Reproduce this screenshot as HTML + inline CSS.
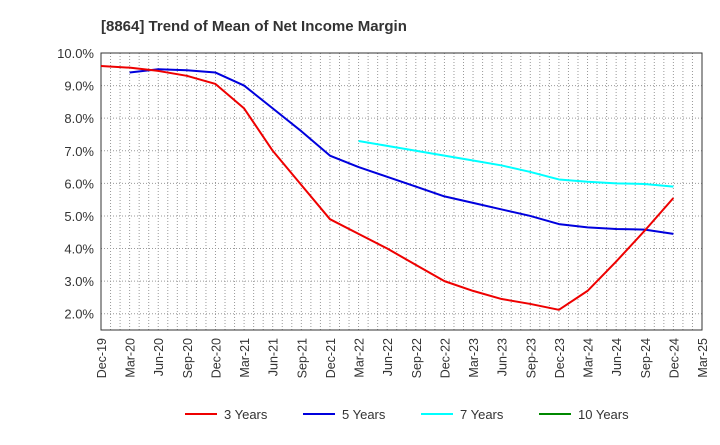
<!DOCTYPE html>
<html><head><meta charset="utf-8"><style>
body{margin:0;background:#fff;font-family:"Liberation Sans",sans-serif}
</style></head><body>
<svg width="720" height="440" xmlns="http://www.w3.org/2000/svg" font-family="Liberation Sans, sans-serif">
<text x="101" y="31" font-size="15" font-weight="bold" fill="#333">[8864]  Trend of Mean of Net Income Margin</text>
<g id="grid"></g><g id="axes"></g><g id="series"></g><g id="legend"></g>
</svg>
<script>
const xLabels=["Dec-19","Mar-20","Jun-20","Sep-20","Dec-20","Mar-21","Jun-21","Sep-21","Dec-21","Mar-22","Jun-22","Sep-22","Dec-22","Mar-23","Jun-23","Sep-23","Dec-23","Mar-24","Jun-24","Sep-24","Dec-24","Mar-25"];
const yTicks=[2,3,4,5,6,7,8,9,10];
const s3=[9.6,9.55,9.45,9.3,9.05,8.3,7.0,5.95,4.9,4.45,4.0,3.5,3.0,2.7,2.45,2.3,2.12,2.7,3.6,4.55,5.55];
const s5=[null,9.4,9.5,9.47,9.4,9.0,8.3,7.6,6.85,6.5,6.2,5.9,5.6,5.4,5.2,5.0,4.75,4.65,4.6,4.58,4.45];
const s7=[null,null,null,null,null,null,null,null,null,7.3,7.15,7.0,6.85,6.7,6.55,6.35,6.12,6.05,6.0,5.98,5.9];
const s10=[];
const NS="http://www.w3.org/2000/svg";
const L=101,R=702,T=53,B=330,ymin=1.5,ymax=10;
const xs=i=>L+(R-L)*i/21;
const ys=v=>B-(B-T)*(v-ymin)/(ymax-ymin);
function mk(t,a,p){const e=document.createElementNS(NS,t);for(const k in a)e.setAttribute(k,a[k]);p.appendChild(e);return e;}
const g=document.getElementById('grid'),ax=document.getElementById('axes'),se=document.getElementById('series'),lg=document.getElementById('legend');
for(let m=1;m<63;m++){const x=L+(R-L)*m/63;
const l=mk('line',{x1:x,x2:x,y1:T,y2:B,stroke:'#999','stroke-dasharray':'1,2','stroke-width':1},g);

}
yTicks.forEach(v=>{const y=ys(v);
const l=mk('line',{x1:L,x2:R,y1:y,y2:y,stroke:'#999','stroke-dasharray':'1,2'},g);


const t=mk('text',{x:L-7,y:y+5,'text-anchor':'end','font-size':13,fill:'#333'},ax);t.textContent=v.toFixed(1)+'%';

});
const fr=mk('rect',{x:L,y:T,width:R-L,height:B-T,fill:'none',stroke:'#333'},ax);


xLabels.forEach((s,i)=>{const x=xs(i);const t=mk('text',{transform:`translate(${x+5},${B+8}) rotate(-90)`,'text-anchor':'end','font-size':12.5,fill:'#333'},ax);t.textContent=s;

});
function line(arr,c,name){let d='';arr.forEach((v,i)=>{if(v==null)return;d+=(d?'L':'M')+xs(i)+','+ys(v);});
if(!d)return;const p=mk('path',{d:d,fill:'none',stroke:c,'stroke-width':2,'stroke-linejoin':'round'},se);

}
line(s7,'#00ffff','series-7-years');line(s5,'#0000dd','series-5-years');line(s3,'#ee0000','series-3-years');line(s10,'#008800','series-10-years');
[["3 Years","#ee0000",185],["5 Years","#0000dd",303],["7 Years","#00ffff",421],["10 Years","#008800",539]].forEach(([n,c,x])=>{
const gg=mk('g',{},lg);

mk('line',{x1:x,x2:x+32,y1:414,y2:414,stroke:c,'stroke-width':2},gg);
const t=mk('text',{x:x+39,y:419,'font-size':13,fill:'#333'},gg);t.textContent=n;});
</script>
</body></html>
